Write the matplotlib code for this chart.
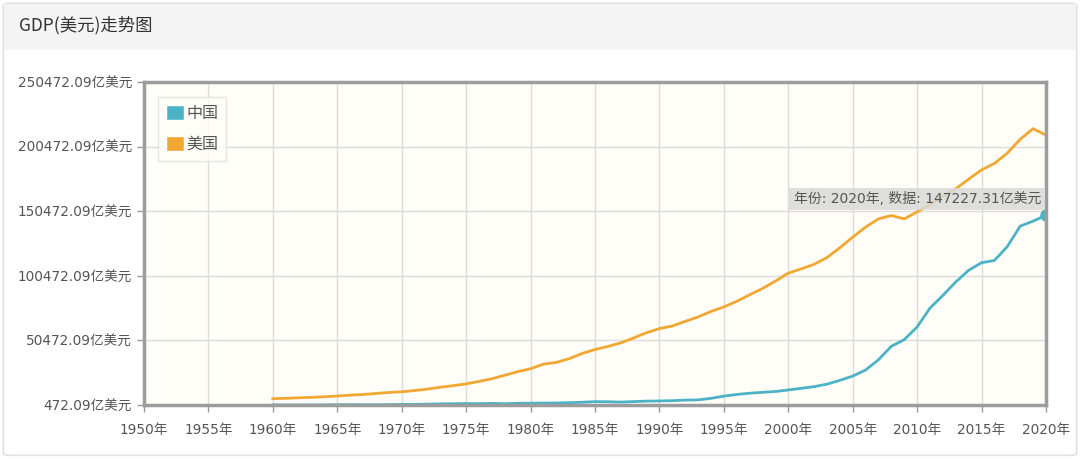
# GDP (US dollars) trend chart, China vs. USA, 1960-2020, in 100 million USD

import matplotlib.pyplot as plt
from matplotlib.patches import FancyBboxPatch, Rectangle

years = list(range(1960, 2021))

# units: 亿美元 (100 million USD)
china_gdp = [
    597.2, 500.6, 472.09, 507.1, 597.1, 704.4, 767.2, 728.8, 708.5, 797.1,
    926.0, 998.0, 1136.9, 1385.4, 1442.2, 1634.3, 1539.4, 1749.4, 1495.4, 1783.0,
    1911.5, 1958.7, 2050.9, 2306.9, 2599.5, 3094.9, 3007.6, 2729.7, 3123.5, 3477.7,
    3608.6, 3833.7, 4269.2, 4447.3, 5643.2, 7345.5, 8637.5, 9616.0, 10290.4, 10940.0,
    12113.5, 13393.9, 14705.5, 16602.9, 19553.5, 22859.7, 27521.3, 35503.4, 45943.3, 51016.9,
    60871.6, 75515.0, 85322.3, 95704.1, 104756.8, 110615.5, 112332.8, 123104.1, 138948.2, 142799.3,
    147227.31,
]
usa_gdp = [
    5433.0, 5633.0, 6051.0, 6386.0, 6858.0, 7437.0, 8150.0, 8617.0, 9425.0, 10199.0,
    10733.0, 11649.0, 12791.0, 14254.0, 15452.0, 16849.0, 18734.0, 20818.0, 23516.0, 26273.0,
    28573.0, 32070.0, 33438.0, 36340.0, 40376.0, 43390.0, 45796.0, 48552.0, 52364.0, 56416.0,
    59631.0, 61581.0, 65203.0, 68586.0, 72872.0, 76397.0, 80731.0, 85776.0, 90628.0, 96312.0,
    102510.0, 105818.0, 109364.0, 114582.0, 122137.0, 130366.0, 138146.0, 144519.0, 147128.0, 144489.0,
    149921.0, 155426.0, 161970.0, 167849.0, 175273.0, 182383.0, 187451.0, 195430.0, 206119.0, 214332.0,
    209366.0,
]
series_names = ["中国", "美国"]
x_ticks = list(range(1950, 2021, 5))
y_base = 472.09
y_ticks = [y_base + 50000 * k for k in range(6)]

china_color = "#4cb3c6"
usa_color = "#f1a833"
fonts = ["DejaVu Sans", "Noto Sans CJK SC"]
plt.rcParams["font.family"] = fonts

fig = plt.figure(figsize=(10.8, 4.59), dpi=100)
fig.patch.set_facecolor("white")

# card + title bar
fig.patches.append(FancyBboxPatch((0.003, 0.008), 0.994, 0.985, boxstyle="round,pad=0,rounding_size=0.006",
                                  transform=fig.transFigure, facecolor="white", edgecolor="#e2e2e2", lw=1.2,
                                  zorder=-2))
fig.patches.append(Rectangle((0.004, 0.891), 0.992, 0.1, transform=fig.transFigure,
                             facecolor="#f4f4f4", edgecolor="none", zorder=-1))
fig.text(0.018, 0.944, "GDP(美元)走势图", fontsize=12.5, color="#333333", va="center",
         family=["Noto Sans CJK SC", "DejaVu Sans"])

ax = fig.add_axes([0.1333, 0.1176, 0.8352, 0.7038])
ax.set_facecolor("#fffdf7")

ax.plot(years, china_gdp, color=china_color, lw=2, label=series_names[0])
ax.plot(years, usa_gdp, color=usa_color, lw=2, label=series_names[1])
ax.plot(years[-1], china_gdp[-1], marker="o", ms=8, color=china_color, clip_on=True)

ax.set_xlim(1950, 2020)
ax.set_ylim(y_ticks[0], y_ticks[-1])
ax.set_xticks(x_ticks)
ax.set_xticklabels([f"{y}年" for y in x_ticks])
ax.set_yticks(y_ticks)
ax.set_yticklabels([f"{v:.2f}亿美元" for v in y_ticks])
ax.tick_params(colors="#999999", labelcolor="#555555", labelsize=9.8, length=5, width=1)
ax.tick_params(axis="x", pad=8)
ax.grid(True, color="#dcdcdc", lw=1)
ax.set_axisbelow(True)
for s in ax.spines.values():
    s.set_color("#9c9c9c")
    s.set_linewidth(2.5)

handles = [Rectangle((0, 0), 1, 1, facecolor=china_color, edgecolor="white"),
           Rectangle((0, 0), 1, 1, facecolor=usa_color, edgecolor="white")]
leg = ax.legend(handles, series_names, loc="upper left", bbox_to_anchor=(0.016, 0.955),
                frameon=True, fancybox=False, handlelength=1.1, handleheight=1.1,
                handletextpad=0.15, labelspacing=0.9, borderpad=0.5, borderaxespad=0,
                prop={"family": ["Noto Sans CJK SC", "DejaVu Sans"], "size": 11.5})
leg.get_frame().set_edgecolor("#e0e0e0")
leg.get_frame().set_facecolor("#fffdf7")
for t in leg.get_texts():
    t.set_color("#555555")

ax.text(0.9945, 0.638, "年份: 2020年, 数据: 147227.31亿美元", transform=ax.transAxes,
        ha="right", va="center", fontsize=10, color="#555555",
        bbox=dict(boxstyle="square,pad=0.3", facecolor="#d9d9d9", alpha=0.85, edgecolor="none"))

fig.savefig("out.png", dpi=100)
